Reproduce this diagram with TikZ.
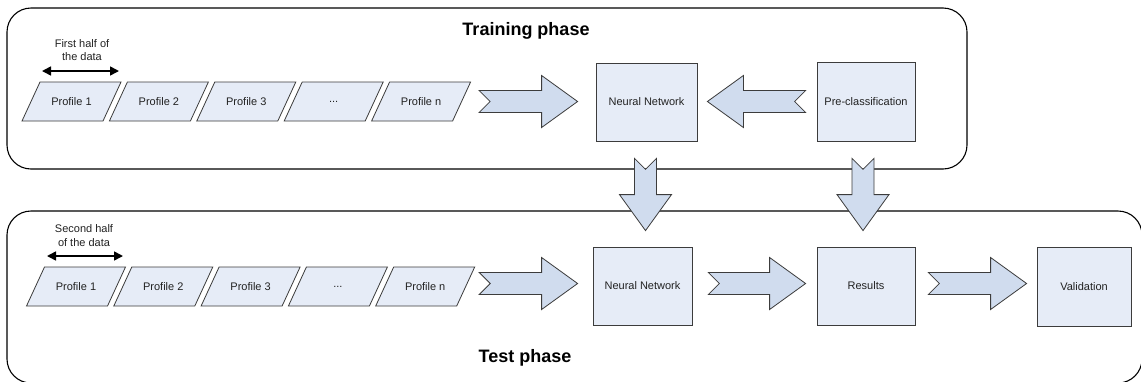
\documentclass[tikz,border=0pt]{standalone}
\usepackage{fontspec}
\setmainfont{Liberation Sans}
\usetikzlibrary{calc,arrows.meta}

\definecolor{boxfill}{HTML}{E6ECF7}
\definecolor{arrowfill}{HTML}{D0DCEE}
\definecolor{edge}{HTML}{3C3C3C}
\definecolor{ink}{HTML}{222222}

\tikzset{
  phase/.style={draw=black, line width=1.1pt, rounded corners=24pt, fill=white},
  proftext/.style={font=\fontsize{11}{13}\selectfont, text=ink, inner sep=0pt},
  profshape/.style={fill=boxfill, draw=edge, line width=0.8pt, line join=miter},
  stagebox/.style={draw=edge, fill=boxfill, line width=0.8pt, inner sep=0pt,
                   font=\fontsize{11}{13}\selectfont, text=ink},
  blockarrowstyle/.style={draw=edge, fill=arrowfill, line width=0.8pt, line join=miter},
  span/.style={line width=1.6pt, draw=black,
               {Triangle[length=9pt,width=9pt]}-{Triangle[length=9pt,width=9pt]}},
  title/.style={font=\fontsize{18}{20}\selectfont\bfseries, text=black},
  note/.style={font=\fontsize{11}{13.5}\selectfont, align=center, text=ink, inner sep=0pt}
}

% parallelogram data block: name, centre x, centre y, label
\newcommand\profile[4]{%
  \filldraw[profshape] (#2-49.5,#3+19.5) -- (#2-31.5,#3-19.5) -- (#2+49.5,#3-19.5)
    -- (#2+31.5,#3+19.5) -- cycle;
  \node[proftext] (#1) at (#2,#3) {#4};}

% notched block arrow from the first point to the second
\newcommand\blockarrow[2]{%
  \path let \p1=(#1), \p2=(#2) in
    \pgfextra{\pgfmathsetmacro\baAng{atan2(\y2-\y1,\x2-\x1)}%
              \pgfmathsetmacro\baLen{veclen(\x2-\x1,\y2-\y1)}%
              \xdef\baA{\baAng}\xdef\baL{\baLen}};
  \filldraw[blockarrowstyle, shift={(#1)}, rotate=\baA]
    (0,-11) -- (\baL-36,-11) -- (\baL-36,-26) -- (\baL,0) -- (\baL-36,26)
    -- (\baL-36,11) -- (0,11) -- (11,0) -- cycle;}

\begin{document}
\begin{tikzpicture}[x=1pt,y=-1pt]
  \useasboundingbox (0,0) rectangle (1141,381);

  % phase frames
  \draw[phase] (7,8) rectangle (967,169);
  \draw[phase] (7,211) rectangle (1142,383);
  \node[title] (train) at (526,31) {Training phase};
  \node[title] (test) at (525,358) {Test phase};

  % training phase
  \profile{pa1}{71.5}{101.5}{Profile 1}
  \profile{pa2}{158.9}{101.5}{Profile 2}
  \profile{pa3}{246.3}{101.5}{Profile 3}
  \profile{pa4}{333.7}{101.5}{...}
  \profile{pan}{421.1}{101.5}{Profile n}

  \coordinate (ha) at (42,71);
  \coordinate (hb) at (119,71);
  \draw[span] (ha) -- (hb);
  \node[note] (firsthalf) at (82,50) {First half of\\the data};

  \node[stagebox, minimum width=101pt, minimum height=78pt] (nn1) at (646.5,102) {Neural Network};
  \node[stagebox, minimum width=98pt, minimum height=79pt] (pre) at (866,101.5) {Pre-classification};

  % test phase
  \profile{pb1}{76}{286.5}{Profile 1}
  \profile{pb2}{163.3}{286.5}{Profile 2}
  \profile{pb3}{250.6}{286.5}{Profile 3}
  \profile{pb4}{337.9}{286.5}{...}
  \profile{pbn}{425.2}{286.5}{Profile n}

  \coordinate (hc) at (47,256);
  \coordinate (hd) at (123,256);
  \draw[span] (hc) -- (hd);
  \node[note] (secondhalf) at (84,235.5) {Second half\\of the data};

  \node[stagebox, minimum width=99pt, minimum height=78pt] (nn2) at (642.5,286) {Neural Network};
  \node[stagebox, minimum width=98pt, minimum height=78pt] (res) at (866,286) {Results};
  \node[stagebox, minimum width=94pt, minimum height=79pt] (val) at (1084,286.5) {Validation};

  % arrow ends
  \coordinate (a1s) at ($(pan)+(58,0)$);
  \coordinate (a1e) at ($(nn1.west |- pan)+(-18,0)$);
  \coordinate (a2s) at ($(pre.west)+(-11,0)$);
  \coordinate (a2e) at ($(nn1.east |- pre.west)+(10,0)$);
  \coordinate (a3s) at ($(nn1.south)+(-1,17)$);
  \coordinate (a3e) at ($(nn2.north -| a3s)+(0,-16)$);
  \coordinate (a4s) at ($(pre.south)+(-3,17)$);
  \coordinate (a4e) at ($(res.north)+(-3,-16)$);
  \coordinate (a5s) at ($(pbn)+(54,-3)$);
  \coordinate (a5e) at ($(nn2.west |- a5s)+(-15,0)$);
  \coordinate (a6s) at ($(nn2.east)+(16,-2.5)$);
  \coordinate (a6e) at ($(res.west)+(-11,-2.5)$);
  \coordinate (a7s) at ($(res.east)+(13,-2.5)$);
  \coordinate (a7e) at ($(val.west)+(-10,-3)$);

  \blockarrow{a1s}{a1e}
  \blockarrow{a2s}{a2e}
  \blockarrow{a3s}{a3e}
  \blockarrow{a4s}{a4e}
  \blockarrow{a5s}{a5e}
  \blockarrow{a6s}{a6e}
  \blockarrow{a7s}{a7e}
\end{tikzpicture}
\end{document}
